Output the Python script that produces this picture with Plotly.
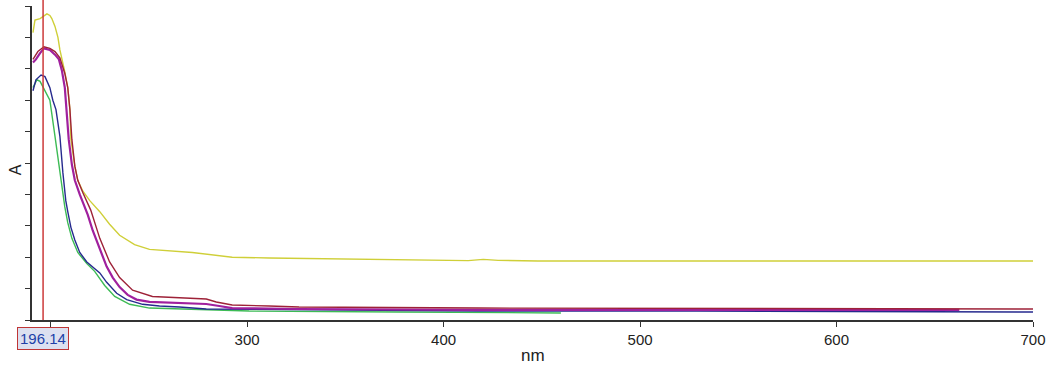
import plotly.graph_objects as go

# Wavelength (nm) / absorbance (A) samples
yellow_nm = [191.0, 192.0, 194.6, 196.6, 198.1, 199.6, 200.6, 202.2, 203.7, 204.7, 205.7, 207.2, 208.7,
             209.8, 210.3, 212.3, 213.8, 216.4, 219.9, 225.0, 230.0, 235.1, 242.7, 250.3, 272.1, 292.4,
             311.2, 351.7, 397.3, 412.5, 420.2, 427.8, 448.0, 700.0]
yellow_a = [1.83, 1.91, 1.92, 1.94, 1.95, 1.94, 1.92, 1.87, 1.80, 1.72, 1.67, 1.58, 1.48,
            1.34, 1.15, 0.98, 0.89, 0.82, 0.76, 0.69, 0.61, 0.54, 0.48, 0.45, 0.43, 0.40,
            0.395, 0.39, 0.382, 0.378, 0.386, 0.380, 0.376, 0.376]

maroon_nm = [191.0, 193.5, 196.6, 199.6, 202.2, 204.7, 207.2, 208.7, 209.8, 210.8, 212.3, 213.8, 216.4,
             220.4, 225.0, 230.0, 235.1, 241.7, 251.8, 265.5, 279.2, 284.3, 292.4, 311.2, 326.4, 417.6,
             600.0, 700.0]
maroon_a = [1.66, 1.71, 1.74, 1.73, 1.71, 1.67, 1.57, 1.48, 1.34, 1.15, 0.98, 0.89, 0.81,
            0.70, 0.52, 0.37, 0.27, 0.19, 0.15, 0.14, 0.134, 0.115, 0.096, 0.089, 0.083, 0.076,
            0.070, 0.070]

magenta_nm = [191.0, 192.5, 194.6, 196.6, 199.6, 202.2, 204.2, 205.7, 207.2, 208.2, 209.2, 210.8, 212.3,
              214.8, 218.9, 221.4, 225.0, 228.5, 231.6, 235.1, 239.2, 243.7, 250.3, 270.6, 279.2, 285.8,
              292.4, 326.4, 417.6, 528.9, 662.5]
magenta_a = [1.64, 1.66, 1.70, 1.73, 1.72, 1.69, 1.66, 1.59, 1.48, 1.34, 1.15, 0.99, 0.89,
             0.80, 0.67, 0.57, 0.45, 0.34, 0.27, 0.21, 0.16, 0.13, 0.115, 0.108, 0.102, 0.089,
             0.076, 0.070, 0.064, 0.064, 0.064]

navy_nm = [191.0, 192.5, 195.1, 197.1, 199.6, 201.1, 202.7, 204.7, 206.2, 207.7, 208.7, 210.3, 212.3,
           214.8, 218.4, 221.4, 225.0, 228.5, 233.6, 238.7, 246.8, 255.4, 265.5, 279.2, 326.4, 417.6,
           528.9, 700.0]
navy_a = [1.46, 1.53, 1.56, 1.55, 1.48, 1.40, 1.34, 1.17, 0.94, 0.76, 0.69, 0.59, 0.51,
          0.43, 0.37, 0.34, 0.30, 0.24, 0.17, 0.13, 0.10, 0.089, 0.083, 0.070, 0.064, 0.057,
          0.057, 0.051]

green_nm = [191.0, 193.0, 194.6, 197.1, 199.6, 202.2, 204.7, 207.2, 208.7, 210.8, 213.8, 218.4, 222.4,
            227.5, 232.6, 240.2, 250.3, 265.5, 301.0, 377.1, 459.7]
green_a = [1.48, 1.53, 1.52, 1.46, 1.40, 1.17, 0.94, 0.72, 0.62, 0.52, 0.43, 0.36, 0.31,
           0.22, 0.15, 0.10, 0.076, 0.070, 0.057, 0.051, 0.045]

cursor_nm = 196.14
x_tickvals = [200, 300, 400, 500, 600, 700]
x_ticktext = ["", "300", "400", "500", "600", "700"]

series = [
    ("green", green_nm, green_a, "#3DBB55", 1.4),
    ("navy", navy_nm, navy_a, "#262A8E", 1.4),
    ("yellow", yellow_nm, yellow_a, "#CFCF38", 1.4),
    ("magenta", magenta_nm, magenta_a, "#A0209E", 2.2),
    ("maroon", maroon_nm, maroon_a, "#9E2238", 1.4),
]

FONT = "Liberation Sans, Arial"

fig = go.Figure()
for name, xs, ys, color, w in series:
    fig.add_trace(go.Scatter(x=xs, y=ys, mode="lines", name=name,
                             line=dict(color=color, width=w), showlegend=False))

fig.add_shape(type="line", xref="x", yref="paper", x0=cursor_nm, x1=cursor_nm, y0=0, y1=1.02,
              line=dict(color="#CC3a3a", width=1.5))

fig.add_annotation(x=cursor_nm, xref="x", y=-0.058, yref="paper", text=format(cursor_nm, ".2f"),
                   showarrow=False, xanchor="center", yanchor="middle",
                   font=dict(family=FONT, size=15, color="#2040A8"),
                   bgcolor="#DCE0F0", bordercolor="#C03535", borderwidth=1, borderpad=2)

fig.add_annotation(x=0.5, xref="paper", y=-0.113, yref="paper", text="nm", showarrow=False,
                   xanchor="center", yanchor="middle",
                   font=dict(family=FONT, size=17, color="#222"))
fig.add_annotation(x=-0.017, xref="paper", y=0.48, yref="paper", text="A", showarrow=False,
                   textangle=-90, xanchor="center", yanchor="middle",
                   font=dict(family=FONT, size=16, color="#222"))

fig.update_layout(
    width=1052, height=367,
    margin=dict(l=32, r=15, t=6, b=47),
    paper_bgcolor="white", plot_bgcolor="white",
    xaxis=dict(range=[190.5, 700], tickvals=x_tickvals, ticktext=x_ticktext,
               showgrid=False, zeroline=False, showline=True, linecolor="#333", linewidth=2,
               ticks="outside", ticklen=5, tickcolor="#333", tickwidth=1,
               tickfont=dict(family=FONT, size=15, color="#222")),
    yaxis=dict(range=[0, 2.0], dtick=0.2, showticklabels=False,
               showgrid=False, zeroline=False, showline=True, linecolor="#333", linewidth=2,
               ticks="outside", ticklen=5, tickcolor="#333", tickwidth=1),
)

fig.write_html("out.html")
